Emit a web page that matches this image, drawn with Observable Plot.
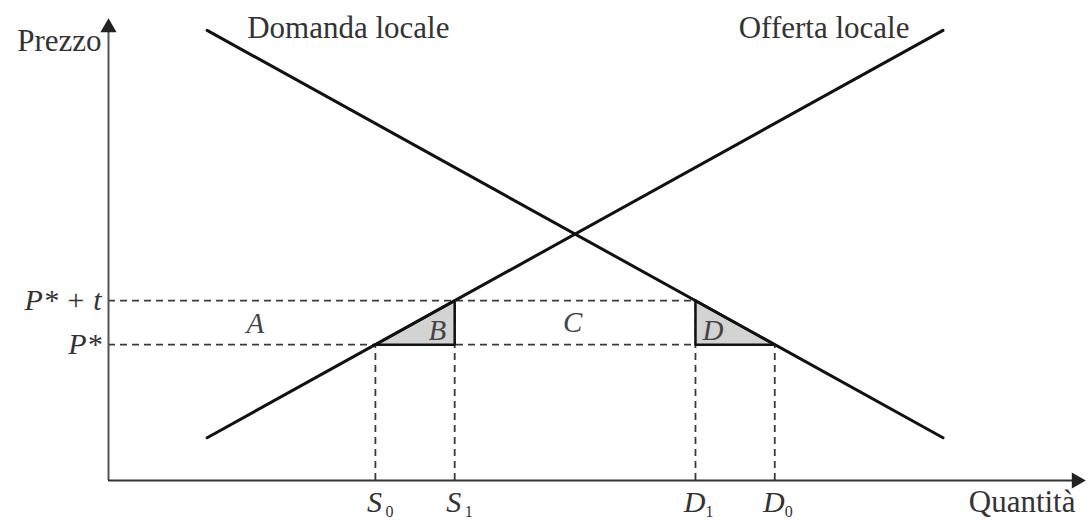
<!DOCTYPE html>
<html><head><meta charset="utf-8">
<script src="https://cdn.jsdelivr.net/npm/d3@7"></script>
<script src="https://cdn.jsdelivr.net/npm/@observablehq/plot@0.6"></script>
<style>body{margin:0;background:#fff}</style>
</head><body><div id="chart"></div>
<script>
// Curves (quantity, price)
const demandQ = [10.2, 86.3];
const demandP = [96.8, 9.2];
const supplyQ = [10.2, 86.3];
const supplyP = [9.2, 96.8];
// Price levels: P*, P*+t
const priceValues = [29.2, 38.7];
const priceLabels = ["P*", "P* + t"];
const priceDashEnd = [68.9, 60.7];
// Quantities S0, S1, D1, D0
const qValues = [27.6, 35.8, 60.7, 68.9];
const qLetters = ["S", "S", "D", "D"];
const qSubs = ["0", "1", "1", "0"];
const qDashTop = [29.2, 38.7, 38.7, 29.2];
// Triangles B and D
const triB = [[27.6, 29.2], [35.8, 29.2], [35.8, 38.7], [27.6, 29.2]];
const triD = [[60.7, 38.7], [60.7, 29.2], [68.9, 29.2], [60.7, 38.7]];
// Area labels
const areaLetters = ["A", "B", "C", "D"];
const areaQ = [15.2, 34.0, 48.0, 62.5];
const areaP = [33.8, 32.3, 33.9, 32.3];
// Curve labels
const curveNames = ["Domanda locale", "Offerta locale"];
const curveNameQ = [24.8, 74.0];
const curveNameP = [97.4, 97.4];

const serif = "'Liberation Serif', 'DejaVu Serif', serif";
const pts = (qs, ps) => qs.map((q, i) => ({q, p: ps[i]}));
const tri = [...triB.map(([q, p]) => ({q, p, g: "B"})), ...triD.map(([q, p]) => ({q, p, g: "D"}))];
const priceRows = priceValues.map((p, i) => ({p, label: priceLabels[i], end: priceDashEnd[i]}));
const qRows = qValues.map((q, i) => ({q, letter: qLetters[i], sub: qSubs[i], top: qDashTop[i]}));

const chart = Plot.plot({
  width: 1089, height: 521,
  marginLeft: 108, marginRight: 14, marginTop: 15, marginBottom: 41,
  x: {domain: [0, 100], axis: null},
  y: {domain: [0, 100], axis: null},
  style: {fontFamily: serif, background: "#fff", color: "#333"},
  marks: [
    // dashed guides
    Plot.ruleY(priceRows, {y: "p", x1: 0, x2: "end", stroke: "#3a3a3a", strokeWidth: 1.8, strokeDasharray: "7,5"}),
    Plot.ruleX(qRows, {x: "q", y1: 0, y2: "top", stroke: "#3a3a3a", strokeWidth: 1.8, strokeDasharray: "7,5"}),
    // triangles
    Plot.line(tri, {x: "q", y: "p", z: "g", fill: "#d3d3d3", stroke: "#111", strokeWidth: 2.5, curve: "linear"}),
    // curves
    Plot.line(pts(demandQ, demandP), {x: "q", y: "p", stroke: "#111", strokeWidth: 3}),
    Plot.line(pts(supplyQ, supplyP), {x: "q", y: "p", stroke: "#111", strokeWidth: 3}),
    // axes
    Plot.ruleX([0], {y1: 0, y2: 97, stroke: "#555", strokeWidth: 2}),
    Plot.ruleY([0], {x1: 0, x2: 100, stroke: "#333", strokeWidth: 2}),
    Plot.dot([{q: 0, p: 97.4, r: 0}, {q: 100.1, p: 0, r: 90}], {x: "q", y: "p", rotate: "r", symbol: "triangle", r: 6, fill: "#222", stroke: "none"}),
    // axis titles
    Plot.text(["Prezzo"], {x: 0, y: 94.4, dx: -7, textAnchor: "end", fontSize: 31, fill: "#333"}),
    Plot.text(["Quantità"], {x: 100, y: 0, dy: 22, textAnchor: "end", fontSize: 31, fill: "#333"}),
    // price tick labels
    Plot.text(priceRows, {x: 0, y: "p", text: "label", dx: -7, textAnchor: "end", fontSize: 30, fontStyle: "italic", fill: "#333"}),
    // quantity tick labels
    Plot.text(qRows, {x: "q", y: 0, text: "letter", dy: 22, dx: -1, fontSize: 30, fontStyle: "italic", fill: "#333"}),
    Plot.text(qRows, {x: "q", y: 0, text: "sub", dy: 31, dx: 14, fontSize: 16, fill: "#333"}),
    // area labels
    Plot.text(areaLetters, {x: (d, i) => areaQ[i], y: (d, i) => areaP[i], text: d => d, fontSize: 29, fontStyle: "italic", fill: "#444"}),
    // curve labels
    Plot.text(curveNames, {x: (d, i) => curveNameQ[i], y: (d, i) => curveNameP[i], text: d => d, fontSize: 31, fill: "#333"})
  ]
});
document.getElementById("chart").appendChild(chart);
</script>
</body></html>
